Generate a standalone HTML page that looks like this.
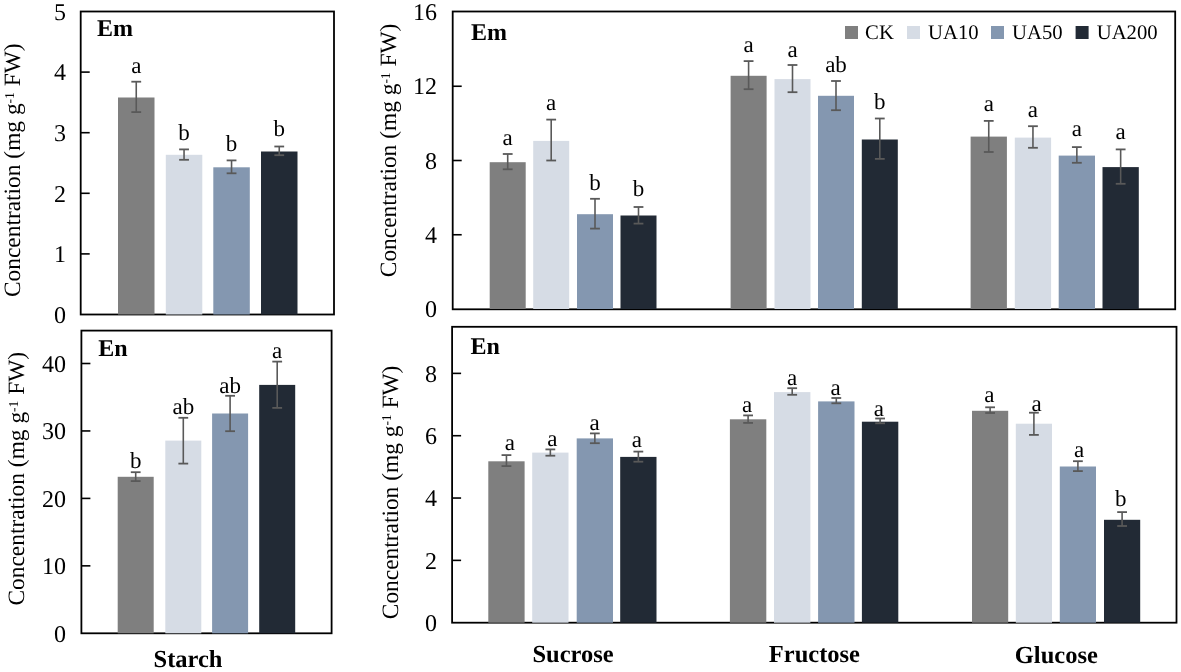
<!DOCTYPE html>
<html><head><meta charset="utf-8"><style>
html,body{margin:0;padding:0;background:#fff;width:1181px;height:672px;overflow:hidden}
svg{display:block;will-change:transform}
text{font-family:"Liberation Serif",serif;fill:#000;text-rendering:geometricPrecision}
.t{font-size:24px}
.l{font-size:23px}
.b{font-size:24px;font-weight:bold}
.lg{font-size:20.7px}
.yl{font-size:23.4px}
.sup{font-size:13.5px}
.c{font-size:24.5px}
</style></head><body>
<svg width="1181" height="672" viewBox="0 0 1181 672">
<rect width="1181" height="672" fill="#fff"/>
<text transform="translate(20.2,297) rotate(-90)" class="yl">Concentration (mg g<tspan class="sup" dy="-6.2">-1</tspan><tspan dy="6.2"> FW)</tspan></text>
<rect x="80.7" y="11.5" width="253.3" height="303.0" fill="none" stroke="#000" stroke-width="1.8"/>
<text x="66" y="322.7" text-anchor="end" class="t">0</text>
<line x1="80.7" y1="253.9" x2="89.7" y2="253.9" stroke="#000" stroke-width="1.6"/>
<text x="66" y="262.1" text-anchor="end" class="t">1</text>
<line x1="80.7" y1="193.3" x2="89.7" y2="193.3" stroke="#000" stroke-width="1.6"/>
<text x="66" y="201.5" text-anchor="end" class="t">2</text>
<line x1="80.7" y1="132.7" x2="89.7" y2="132.7" stroke="#000" stroke-width="1.6"/>
<text x="66" y="140.89999999999998" text-anchor="end" class="t">3</text>
<line x1="80.7" y1="72.1" x2="89.7" y2="72.1" stroke="#000" stroke-width="1.6"/>
<text x="66" y="80.3" text-anchor="end" class="t">4</text>
<text x="66" y="19.7" text-anchor="end" class="t">5</text>
<text x="97.1" y="36.3" class="b">Em</text>
<rect x="118" y="97.5" width="36.5" height="217.0" fill="#7F7F7F"/>
<line x1="136.25" y1="81.7" x2="136.25" y2="112.1" stroke="#595959" stroke-width="1.6"/>
<line x1="131.35" y1="81.7" x2="141.15" y2="81.7" stroke="#595959" stroke-width="1.8"/>
<line x1="131.35" y1="112.1" x2="141.15" y2="112.1" stroke="#595959" stroke-width="1.8"/>
<text x="136.25" y="73.0" text-anchor="middle" class="l" style="font-size:23px">a</text>
<rect x="165.8" y="154.8" width="36.5" height="159.7" fill="#D6DCE5"/>
<line x1="184.05" y1="149.4" x2="184.05" y2="159.8" stroke="#595959" stroke-width="1.6"/>
<line x1="179.15" y1="149.4" x2="188.95000000000002" y2="149.4" stroke="#595959" stroke-width="1.8"/>
<line x1="179.15" y1="159.8" x2="188.95000000000002" y2="159.8" stroke="#595959" stroke-width="1.8"/>
<text x="184.05" y="139.7" text-anchor="middle" class="l" style="font-size:23px">b</text>
<rect x="213.3" y="167.3" width="36.5" height="147.2" fill="#8497B0"/>
<line x1="231.55" y1="160.4" x2="231.55" y2="173.3" stroke="#595959" stroke-width="1.6"/>
<line x1="226.65" y1="160.4" x2="236.45000000000002" y2="160.4" stroke="#595959" stroke-width="1.8"/>
<line x1="226.65" y1="173.3" x2="236.45000000000002" y2="173.3" stroke="#595959" stroke-width="1.8"/>
<text x="231.55" y="151.2" text-anchor="middle" class="l" style="font-size:23px">b</text>
<rect x="261" y="151.5" width="36.5" height="163.0" fill="#222A35"/>
<line x1="279.25" y1="146.5" x2="279.25" y2="155.2" stroke="#595959" stroke-width="1.6"/>
<line x1="274.35" y1="146.5" x2="284.15" y2="146.5" stroke="#595959" stroke-width="1.8"/>
<line x1="274.35" y1="155.2" x2="284.15" y2="155.2" stroke="#595959" stroke-width="1.8"/>
<text x="279.25" y="136.2" text-anchor="middle" class="l" style="font-size:23px">b</text>
<text transform="translate(23.8,605.5) rotate(-90)" class="yl">Concentration (mg g<tspan class="sup" dy="-6.2">-1</tspan><tspan dy="6.2"> FW)</tspan></text>
<rect x="81.4" y="330.6" width="250.20000000000002" height="302.69999999999993" fill="none" stroke="#000" stroke-width="1.8"/>
<text x="66" y="641.5" text-anchor="end" class="t">0</text>
<line x1="81.4" y1="565.8499999999999" x2="90.4" y2="565.8499999999999" stroke="#000" stroke-width="1.6"/>
<text x="66" y="574.05" text-anchor="end" class="t">10</text>
<line x1="81.4" y1="498.4" x2="90.4" y2="498.4" stroke="#000" stroke-width="1.6"/>
<text x="66" y="506.59999999999997" text-anchor="end" class="t">20</text>
<line x1="81.4" y1="430.94999999999993" x2="90.4" y2="430.94999999999993" stroke="#000" stroke-width="1.6"/>
<text x="66" y="439.1499999999999" text-anchor="end" class="t">30</text>
<line x1="81.4" y1="363.49999999999994" x2="90.4" y2="363.49999999999994" stroke="#000" stroke-width="1.6"/>
<text x="66" y="371.69999999999993" text-anchor="end" class="t">40</text>
<text x="98.3" y="355.6" class="b">En</text>
<rect x="117.7" y="476.8" width="36" height="156.49999999999994" fill="#7F7F7F"/>
<line x1="135.7" y1="472.2" x2="135.7" y2="481.1" stroke="#595959" stroke-width="1.6"/>
<line x1="130.79999999999998" y1="472.2" x2="140.6" y2="472.2" stroke="#595959" stroke-width="1.8"/>
<line x1="130.79999999999998" y1="481.1" x2="140.6" y2="481.1" stroke="#595959" stroke-width="1.8"/>
<text x="135.7" y="467.59999999999997" text-anchor="middle" class="l" style="font-size:23px">b</text>
<rect x="165.3" y="440.6" width="36" height="192.69999999999993" fill="#D6DCE5"/>
<line x1="183.3" y1="417.8" x2="183.3" y2="463.6" stroke="#595959" stroke-width="1.6"/>
<line x1="178.4" y1="417.8" x2="188.20000000000002" y2="417.8" stroke="#595959" stroke-width="1.8"/>
<line x1="178.4" y1="463.6" x2="188.20000000000002" y2="463.6" stroke="#595959" stroke-width="1.8"/>
<text x="183.3" y="414.2" text-anchor="middle" class="l" style="font-size:23px">ab</text>
<rect x="212.1" y="413.5" width="36" height="219.79999999999995" fill="#8497B0"/>
<line x1="230.1" y1="395.8" x2="230.1" y2="431.2" stroke="#595959" stroke-width="1.6"/>
<line x1="225.2" y1="395.8" x2="235.0" y2="395.8" stroke="#595959" stroke-width="1.8"/>
<line x1="225.2" y1="431.2" x2="235.0" y2="431.2" stroke="#595959" stroke-width="1.8"/>
<text x="230.1" y="393.0" text-anchor="middle" class="l" style="font-size:23px">ab</text>
<rect x="259.2" y="384.9" width="36" height="248.39999999999998" fill="#222A35"/>
<line x1="277.2" y1="361.6" x2="277.2" y2="407.9" stroke="#595959" stroke-width="1.6"/>
<line x1="272.3" y1="361.6" x2="282.09999999999997" y2="361.6" stroke="#595959" stroke-width="1.8"/>
<line x1="272.3" y1="407.9" x2="282.09999999999997" y2="407.9" stroke="#595959" stroke-width="1.8"/>
<text x="277.2" y="358.0" text-anchor="middle" class="l" style="font-size:23px">a</text>
<text x="188" y="667" text-anchor="middle" class="b c">Starch</text>
<text transform="translate(395.7,277.2) rotate(-90)" class="yl">Concentration (mg g<tspan class="sup" dy="-6.2">-1</tspan><tspan dy="6.2"> FW)</tspan></text>
<rect x="452.7" y="11.5" width="722.5" height="297.8" fill="none" stroke="#000" stroke-width="1.8"/>
<text x="437" y="317.2" text-anchor="end" class="t">0</text>
<line x1="452.7" y1="234.75" x2="461.7" y2="234.75" stroke="#000" stroke-width="1.6"/>
<text x="437" y="242.95" text-anchor="end" class="t">4</text>
<line x1="452.7" y1="160.5" x2="461.7" y2="160.5" stroke="#000" stroke-width="1.6"/>
<text x="437" y="168.7" text-anchor="end" class="t">8</text>
<line x1="452.7" y1="86.25" x2="461.7" y2="86.25" stroke="#000" stroke-width="1.6"/>
<text x="437" y="94.45" text-anchor="end" class="t">12</text>
<text x="437" y="20.2" text-anchor="end" class="t">16</text>
<text x="471" y="39.8" class="b">Em</text>
<rect x="489.7" y="162.2" width="36" height="146.8" fill="#7F7F7F"/>
<line x1="507.7" y1="154" x2="507.7" y2="169.3" stroke="#595959" stroke-width="1.6"/>
<line x1="502.8" y1="154" x2="512.6" y2="154" stroke="#595959" stroke-width="1.8"/>
<line x1="502.8" y1="169.3" x2="512.6" y2="169.3" stroke="#595959" stroke-width="1.8"/>
<text x="507.7" y="144.5" text-anchor="middle" class="l" style="font-size:23px">a</text>
<rect x="533.2" y="140.9" width="36" height="168.1" fill="#D6DCE5"/>
<line x1="551.2" y1="119.6" x2="551.2" y2="160.5" stroke="#595959" stroke-width="1.6"/>
<line x1="546.3000000000001" y1="119.6" x2="556.1" y2="119.6" stroke="#595959" stroke-width="1.8"/>
<line x1="546.3000000000001" y1="160.5" x2="556.1" y2="160.5" stroke="#595959" stroke-width="1.8"/>
<text x="551.2" y="109.9" text-anchor="middle" class="l" style="font-size:23px">a</text>
<rect x="577" y="214.2" width="36" height="94.80000000000001" fill="#8497B0"/>
<line x1="595.0" y1="198.8" x2="595.0" y2="228.6" stroke="#595959" stroke-width="1.6"/>
<line x1="590.1" y1="198.8" x2="599.9" y2="198.8" stroke="#595959" stroke-width="1.8"/>
<line x1="590.1" y1="228.6" x2="599.9" y2="228.6" stroke="#595959" stroke-width="1.8"/>
<text x="595.0" y="189.7" text-anchor="middle" class="l" style="font-size:23px">b</text>
<rect x="620.5" y="215.5" width="36" height="93.5" fill="#222A35"/>
<line x1="638.5" y1="207" x2="638.5" y2="223.6" stroke="#595959" stroke-width="1.6"/>
<line x1="633.6" y1="207" x2="643.4" y2="207" stroke="#595959" stroke-width="1.8"/>
<line x1="633.6" y1="223.6" x2="643.4" y2="223.6" stroke="#595959" stroke-width="1.8"/>
<text x="638.5" y="196.29999999999998" text-anchor="middle" class="l" style="font-size:23px">b</text>
<rect x="730.6" y="75.8" width="36" height="233.2" fill="#7F7F7F"/>
<line x1="748.6" y1="61.1" x2="748.6" y2="89.2" stroke="#595959" stroke-width="1.6"/>
<line x1="743.7" y1="61.1" x2="753.5" y2="61.1" stroke="#595959" stroke-width="1.8"/>
<line x1="743.7" y1="89.2" x2="753.5" y2="89.2" stroke="#595959" stroke-width="1.8"/>
<text x="748.6" y="52.0" text-anchor="middle" class="l" style="font-size:23px">a</text>
<rect x="774.5" y="79.1" width="36" height="229.9" fill="#D6DCE5"/>
<line x1="792.5" y1="65" x2="792.5" y2="92.2" stroke="#595959" stroke-width="1.6"/>
<line x1="787.6" y1="65" x2="797.4" y2="65" stroke="#595959" stroke-width="1.8"/>
<line x1="787.6" y1="92.2" x2="797.4" y2="92.2" stroke="#595959" stroke-width="1.8"/>
<text x="792.5" y="56.5" text-anchor="middle" class="l" style="font-size:23px">a</text>
<rect x="818" y="95.8" width="36" height="213.2" fill="#8497B0"/>
<line x1="836.0" y1="81" x2="836.0" y2="110.2" stroke="#595959" stroke-width="1.6"/>
<line x1="831.1" y1="81" x2="840.9" y2="81" stroke="#595959" stroke-width="1.8"/>
<line x1="831.1" y1="110.2" x2="840.9" y2="110.2" stroke="#595959" stroke-width="1.8"/>
<text x="836.0" y="72.3" text-anchor="middle" class="l" style="font-size:23px">ab</text>
<rect x="861.8" y="139.5" width="36" height="169.5" fill="#222A35"/>
<line x1="879.8" y1="118.5" x2="879.8" y2="158.9" stroke="#595959" stroke-width="1.6"/>
<line x1="874.9" y1="118.5" x2="884.6999999999999" y2="118.5" stroke="#595959" stroke-width="1.8"/>
<line x1="874.9" y1="158.9" x2="884.6999999999999" y2="158.9" stroke="#595959" stroke-width="1.8"/>
<text x="879.8" y="109.2" text-anchor="middle" class="l" style="font-size:23px">b</text>
<rect x="970.6" y="136.6" width="36.3" height="172.4" fill="#7F7F7F"/>
<line x1="988.75" y1="120.9" x2="988.75" y2="152" stroke="#595959" stroke-width="1.6"/>
<line x1="983.85" y1="120.9" x2="993.65" y2="120.9" stroke="#595959" stroke-width="1.8"/>
<line x1="983.85" y1="152" x2="993.65" y2="152" stroke="#595959" stroke-width="1.8"/>
<text x="988.75" y="110.8" text-anchor="middle" class="l" style="font-size:23px">a</text>
<rect x="1014.8" y="137.6" width="36.3" height="171.4" fill="#D6DCE5"/>
<line x1="1032.95" y1="126.2" x2="1032.95" y2="147.8" stroke="#595959" stroke-width="1.6"/>
<line x1="1028.05" y1="126.2" x2="1037.8500000000001" y2="126.2" stroke="#595959" stroke-width="1.8"/>
<line x1="1028.05" y1="147.8" x2="1037.8500000000001" y2="147.8" stroke="#595959" stroke-width="1.8"/>
<text x="1032.95" y="116.7" text-anchor="middle" class="l" style="font-size:23px">a</text>
<rect x="1058.7" y="155.6" width="36.3" height="153.4" fill="#8497B0"/>
<line x1="1076.8500000000001" y1="147.1" x2="1076.8500000000001" y2="162.8" stroke="#595959" stroke-width="1.6"/>
<line x1="1071.95" y1="147.1" x2="1081.7500000000002" y2="147.1" stroke="#595959" stroke-width="1.8"/>
<line x1="1071.95" y1="162.8" x2="1081.7500000000002" y2="162.8" stroke="#595959" stroke-width="1.8"/>
<text x="1076.8500000000001" y="136.0" text-anchor="middle" class="l" style="font-size:23px">a</text>
<rect x="1102.5" y="167.1" width="36.3" height="141.9" fill="#222A35"/>
<line x1="1120.65" y1="149.4" x2="1120.65" y2="183.8" stroke="#595959" stroke-width="1.6"/>
<line x1="1115.75" y1="149.4" x2="1125.5500000000002" y2="149.4" stroke="#595959" stroke-width="1.8"/>
<line x1="1115.75" y1="183.8" x2="1125.5500000000002" y2="183.8" stroke="#595959" stroke-width="1.8"/>
<text x="1120.65" y="139.29999999999998" text-anchor="middle" class="l" style="font-size:23px">a</text>
<rect x="845" y="26" width="13" height="13" fill="#7F7F7F"/>
<text x="865.1" y="39" class="lg">CK</text>
<rect x="907" y="26" width="13" height="13" fill="#D6DCE5"/>
<text x="928.0" y="39" class="lg">UA10</text>
<rect x="991" y="26" width="13" height="13" fill="#8497B0"/>
<text x="1012.0" y="39" class="lg">UA50</text>
<rect x="1075.6" y="26" width="13" height="13" fill="#222A35"/>
<text x="1096.7" y="39" class="lg">UA200</text>
<text transform="translate(397.5,619.2) rotate(-90)" class="yl">Concentration (mg g<tspan class="sup" dy="-6.2">-1</tspan><tspan dy="6.2"> FW)</tspan></text>
<rect x="452.1" y="326.8" width="724.4" height="295.90000000000003" fill="none" stroke="#000" stroke-width="1.8"/>
<text x="437" y="630.9000000000001" text-anchor="end" class="t">0</text>
<line x1="452.1" y1="560.37" x2="461.1" y2="560.37" stroke="#000" stroke-width="1.6"/>
<text x="437" y="568.57" text-anchor="end" class="t">2</text>
<line x1="452.1" y1="498.0400000000001" x2="461.1" y2="498.0400000000001" stroke="#000" stroke-width="1.6"/>
<text x="437" y="506.24000000000007" text-anchor="end" class="t">4</text>
<line x1="452.1" y1="435.71000000000004" x2="461.1" y2="435.71000000000004" stroke="#000" stroke-width="1.6"/>
<text x="437" y="443.91" text-anchor="end" class="t">6</text>
<line x1="452.1" y1="373.38000000000005" x2="461.1" y2="373.38000000000005" stroke="#000" stroke-width="1.6"/>
<text x="437" y="381.58000000000004" text-anchor="end" class="t">8</text>
<text x="470.4" y="353.9" class="b">En</text>
<rect x="488.3" y="461.3" width="36.3" height="161.40000000000003" fill="#7F7F7F"/>
<line x1="506.45" y1="455.1" x2="506.45" y2="466.1" stroke="#595959" stroke-width="1.6"/>
<line x1="501.55" y1="455.1" x2="511.34999999999997" y2="455.1" stroke="#595959" stroke-width="1.8"/>
<line x1="501.55" y1="466.1" x2="511.34999999999997" y2="466.1" stroke="#595959" stroke-width="1.8"/>
<text x="509.84999999999997" y="449.9" text-anchor="middle" class="l" style="font-size:23px">a</text>
<rect x="532.2" y="452.6" width="36.3" height="170.10000000000002" fill="#D6DCE5"/>
<line x1="550.35" y1="449.4" x2="550.35" y2="455.7" stroke="#595959" stroke-width="1.6"/>
<line x1="545.45" y1="449.4" x2="555.25" y2="449.4" stroke="#595959" stroke-width="1.8"/>
<line x1="545.45" y1="455.7" x2="555.25" y2="455.7" stroke="#595959" stroke-width="1.8"/>
<text x="552.25" y="445.8" text-anchor="middle" class="l" style="font-size:23px">a</text>
<rect x="576.7" y="438.4" width="36.3" height="184.30000000000007" fill="#8497B0"/>
<line x1="594.85" y1="433.4" x2="594.85" y2="443.2" stroke="#595959" stroke-width="1.6"/>
<line x1="589.95" y1="433.4" x2="599.75" y2="433.4" stroke="#595959" stroke-width="1.8"/>
<line x1="589.95" y1="443.2" x2="599.75" y2="443.2" stroke="#595959" stroke-width="1.8"/>
<text x="594.5500000000001" y="430.4" text-anchor="middle" class="l" style="font-size:23px">a</text>
<rect x="620.2" y="456.9" width="36.3" height="165.80000000000007" fill="#222A35"/>
<line x1="638.35" y1="451.6" x2="638.35" y2="461.7" stroke="#595959" stroke-width="1.6"/>
<line x1="633.45" y1="451.6" x2="643.25" y2="451.6" stroke="#595959" stroke-width="1.8"/>
<line x1="633.45" y1="461.7" x2="643.25" y2="461.7" stroke="#595959" stroke-width="1.8"/>
<text x="636.85" y="447.1" text-anchor="middle" class="l" style="font-size:23px">a</text>
<rect x="729.9" y="419.3" width="36.4" height="203.40000000000003" fill="#7F7F7F"/>
<line x1="748.1" y1="415.4" x2="748.1" y2="422.9" stroke="#595959" stroke-width="1.6"/>
<line x1="743.2" y1="415.4" x2="753.0" y2="415.4" stroke="#595959" stroke-width="1.8"/>
<line x1="743.2" y1="422.9" x2="753.0" y2="422.9" stroke="#595959" stroke-width="1.8"/>
<text x="747.1" y="411.8" text-anchor="middle" class="l" style="font-size:23px">a</text>
<rect x="774" y="392.1" width="36.4" height="230.60000000000002" fill="#D6DCE5"/>
<line x1="792.2" y1="388.2" x2="792.2" y2="394.8" stroke="#595959" stroke-width="1.6"/>
<line x1="787.3000000000001" y1="388.2" x2="797.1" y2="388.2" stroke="#595959" stroke-width="1.8"/>
<line x1="787.3000000000001" y1="394.8" x2="797.1" y2="394.8" stroke="#595959" stroke-width="1.8"/>
<text x="792.2" y="385.4" text-anchor="middle" class="l" style="font-size:23px">a</text>
<rect x="818.1" y="401.4" width="36.4" height="221.30000000000007" fill="#8497B0"/>
<line x1="836.3000000000001" y1="398" x2="836.3000000000001" y2="403.3" stroke="#595959" stroke-width="1.6"/>
<line x1="831.4000000000001" y1="398" x2="841.2" y2="398" stroke="#595959" stroke-width="1.8"/>
<line x1="831.4000000000001" y1="403.3" x2="841.2" y2="403.3" stroke="#595959" stroke-width="1.8"/>
<text x="835.5000000000001" y="395.0" text-anchor="middle" class="l" style="font-size:23px">a</text>
<rect x="861.9" y="421.7" width="36.4" height="201.00000000000006" fill="#222A35"/>
<line x1="880.1" y1="418.5" x2="880.1" y2="423.3" stroke="#595959" stroke-width="1.6"/>
<line x1="875.2" y1="418.5" x2="885.0" y2="418.5" stroke="#595959" stroke-width="1.8"/>
<line x1="875.2" y1="423.3" x2="885.0" y2="423.3" stroke="#595959" stroke-width="1.8"/>
<text x="878.9" y="415.9" text-anchor="middle" class="l" style="font-size:23px">a</text>
<rect x="972" y="410.8" width="36.2" height="211.90000000000003" fill="#7F7F7F"/>
<line x1="990.1" y1="407.3" x2="990.1" y2="413" stroke="#595959" stroke-width="1.6"/>
<line x1="985.2" y1="407.3" x2="995.0" y2="407.3" stroke="#595959" stroke-width="1.8"/>
<line x1="985.2" y1="413" x2="995.0" y2="413" stroke="#595959" stroke-width="1.8"/>
<text x="989.3000000000001" y="401.9" text-anchor="middle" class="l" style="font-size:23px">a</text>
<rect x="1015.8" y="423.7" width="36.2" height="199.00000000000006" fill="#D6DCE5"/>
<line x1="1033.8999999999999" y1="412.7" x2="1033.8999999999999" y2="434.9" stroke="#595959" stroke-width="1.6"/>
<line x1="1028.9999999999998" y1="412.7" x2="1038.8" y2="412.7" stroke="#595959" stroke-width="1.8"/>
<line x1="1028.9999999999998" y1="434.9" x2="1038.8" y2="434.9" stroke="#595959" stroke-width="1.8"/>
<text x="1036.6" y="411.3" text-anchor="middle" class="l" style="font-size:23px">a</text>
<rect x="1059.8" y="466.5" width="36.2" height="156.20000000000005" fill="#8497B0"/>
<line x1="1077.8999999999999" y1="461.2" x2="1077.8999999999999" y2="471.1" stroke="#595959" stroke-width="1.6"/>
<line x1="1072.9999999999998" y1="461.2" x2="1082.8" y2="461.2" stroke="#595959" stroke-width="1.8"/>
<line x1="1072.9999999999998" y1="471.1" x2="1082.8" y2="471.1" stroke="#595959" stroke-width="1.8"/>
<text x="1078.9999999999998" y="456.8" text-anchor="middle" class="l" style="font-size:23px">a</text>
<rect x="1104" y="519.8" width="36.2" height="102.90000000000009" fill="#222A35"/>
<line x1="1122.1" y1="512.1" x2="1122.1" y2="526" stroke="#595959" stroke-width="1.6"/>
<line x1="1117.1999999999998" y1="512.1" x2="1127.0" y2="512.1" stroke="#595959" stroke-width="1.8"/>
<line x1="1117.1999999999998" y1="526" x2="1127.0" y2="526" stroke="#595959" stroke-width="1.8"/>
<text x="1120.6999999999998" y="505.59999999999997" text-anchor="middle" class="l" style="font-size:23px">b</text>
<text x="573" y="662.4" text-anchor="middle" class="b c">Sucrose</text>
<text x="814.4" y="662.2" text-anchor="middle" class="b c">Fructose</text>
<text x="1056.3" y="662.7" text-anchor="middle" class="b c">Glucose</text>
</svg>
</body></html>
